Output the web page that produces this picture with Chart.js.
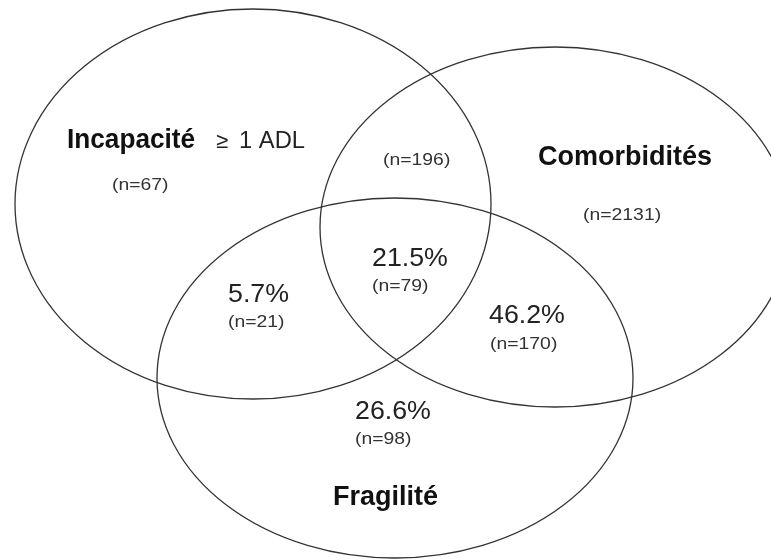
<!DOCTYPE html>
<html>
<head>
<meta charset="utf-8">
<script src="https://cdn.jsdelivr.net/npm/chart.js@4.4.1/dist/chart.umd.min.js"></script>
<style>
  html, body { margin: 0; padding: 0; background: #fff; }
  canvas { display: block; }
</style>
</head>
<body>
<canvas id="venn" width="771" height="560"></canvas>
<script>
// Sets and regions
const setNames = ['Incapacité', 'Comorbidités', 'Fragilité'];
const setQualifiers = ['≥ 1 ADL', '', ''];
const regionNames = ['Incapacité seule', 'Incapacité + Comorbidités', 'Comorbidités seules',
  'Incapacité + Fragilité', 'Les trois', 'Comorbidités + Fragilité', 'Fragilité seule'];
const regionCounts = [67, 196, 2131, 21, 79, 170, 98];
const regionPercents = [null, null, null, 5.7, 21.5, 46.2, 26.6];

// Layout (page units, y going down)
const ellipses = [
  { cx: 253, cy: 204, rx: 238, ry: 195 },
  { cx: 555, cy: 227, rx: 235, ry: 180 },
  { cx: 395, cy: 378, rx: 238, ry: 180 }
];
const setLabelPos = [{ x: 67, y: 148 }, { x: 538, y: 165 }, { x: 333, y: 505 }];
const pctLabelPos = [null, null, null, { x: 228, y: 302 }, { x: 372, y: 266 }, { x: 489, y: 323 }, { x: 355, y: 419 }];
const countLabelPos = [
  { x: 112, y: 190 }, { x: 383, y: 165 }, { x: 583, y: 220 },
  { x: 228, y: 327 }, { x: 372, y: 291 }, { x: 490, y: 349 }, { x: 355, y: 444 }
];

const FONT = '"Liberation Sans", Arial, Helvetica, sans-serif';

const pctIdx = regionPercents.map((p, i) => p == null ? -1 : i).filter(i => i >= 0);

// text with a slight horizontal stretch, like the scanned figure
function drawText(ctx, txt, x, y, font, sx) {
  ctx.save();
  ctx.font = font;
  ctx.translate(x, y);
  ctx.scale(sx || 1, 1);
  ctx.fillText(txt, 0, 0);
  ctx.restore();
}

const vennPlugin = {
  id: 'venn',
  beforeDatasetsDraw(chart) {
    const { ctx, scales: { x, y } } = chart;
    ctx.save();
    ctx.strokeStyle = '#333';
    ctx.lineWidth = 1.3;
    ellipses.forEach(e => {
      const px = x.getPixelForValue(e.cx);
      const py = y.getPixelForValue(e.cy);
      const prx = Math.abs(x.getPixelForValue(e.cx + e.rx) - px);
      const pry = Math.abs(y.getPixelForValue(e.cy + e.ry) - py);
      ctx.beginPath();
      ctx.ellipse(px, py, prx, pry, 0, 0, Math.PI * 2);
      ctx.stroke();
    });
    ctx.restore();
  },
  afterDatasetsDraw(chart) {
    const ctx = chart.ctx;
    ctx.save();
    ctx.textAlign = 'left';
    ctx.textBaseline = 'alphabetic';

    // set names
    chart.getDatasetMeta(0).data.forEach((pt, i) => {
      ctx.fillStyle = '#111';
      drawText(ctx, setNames[i], pt.x, pt.y, 'bold 27px ' + FONT, i === 0 ? 0.97 : 1);
      if (setQualifiers[i]) {
        ctx.font = 'bold 27px ' + FONT;
        const w = ctx.measureText(setNames[i]).width * 0.97;
        ctx.fillStyle = '#222';
        const [sym, rest] = [setQualifiers[i].slice(0, 1), setQualifiers[i].slice(2)];
        drawText(ctx, sym, pt.x + w + 21, pt.y, '22px ' + FONT);
        drawText(ctx, rest, pt.x + w + 44, pt.y, '23px ' + FONT, 1.03);
      }
    });

    // percentages
    ctx.fillStyle = '#222';
    chart.getDatasetMeta(1).data.forEach((pt, k) => {
      drawText(ctx, regionPercents[pctIdx[k]].toFixed(1) + '%', pt.x, pt.y, '25px ' + FONT, 1.07);
    });

    // counts
    ctx.fillStyle = '#333';
    chart.getDatasetMeta(2).data.forEach((pt, i) => {
      drawText(ctx, '(n=' + regionCounts[i] + ')', pt.x, pt.y, '17px ' + FONT, 1.14);
    });
    ctx.restore();
  }
};

new Chart(document.getElementById('venn'), {
  type: 'scatter',
  data: {
    datasets: [
      { label: 'Ensembles', data: setLabelPos, pointRadius: 0 },
      { label: 'Pourcentages', data: pctIdx.map(i => pctLabelPos[i]), pointRadius: 0 },
      { label: 'Effectifs', data: countLabelPos, pointRadius: 0 }
    ]
  },
  options: {
    responsive: false,
    animation: false,
    events: [],
    layout: { padding: 0 },
    plugins: { legend: { display: false }, tooltip: { enabled: false } },
    scales: {
      x: { type: 'linear', min: 0, max: 771, display: false },
      y: { type: 'linear', min: 0, max: 560, reverse: true, display: false }
    }
  },
  plugins: [vennPlugin]
});
</script>
</body>
</html>
